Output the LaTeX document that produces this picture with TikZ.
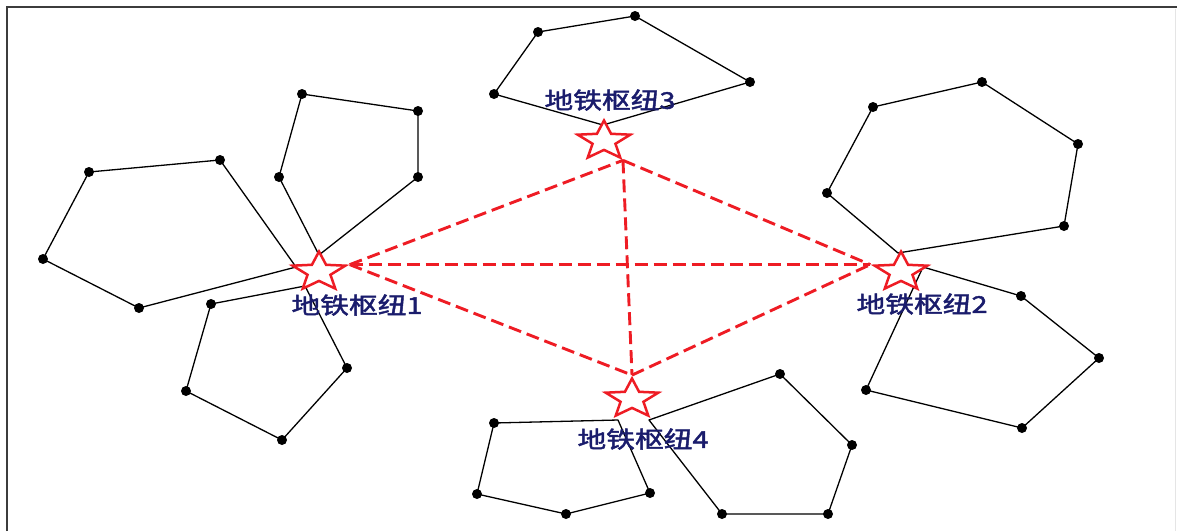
\documentclass[tikz,border=0pt]{standalone}
\usepackage{fontspec}
\newfontfamily\cjk[FakeStretch=1.25,FakeBold=2]{Noto Sans CJK SC}
\usetikzlibrary{shapes.geometric}
\definecolor{hubred}{RGB}{238,28,36}
\definecolor{labelblue}{RGB}{26,28,108}
\definecolor{framegray}{RGB}{60,60,60}
\begin{document}
\begin{tikzpicture}[x=1pt,y=-1pt,
  edge/.style={line width=1.3pt, black, line join=round},
  vdot/.style={circle, fill=black, inner sep=0pt, minimum size=10pt},
  hub/.style={star, star points=5, star point ratio=2.3, draw=hubred, fill=white,
    line width=2.5pt, minimum size=41pt, inner sep=0pt, xscale=1.35},
  link/.style={hubred, line width=2.9pt, dash pattern=on 13pt off 6pt},
  hublabel/.style={text=labelblue, font=\cjk\fontsize{23}{23}\selectfont, inner sep=0pt}]
\useasboundingbox (0,0) rectangle (1177,531);
% frame
\draw[framegray, line width=2pt] (7,531) -- (7,7) -- (1177,7);
\draw[black!10, line width=0.8pt] (1175,9) -- (1175,531);

% polygons
\draw[edge] (89,172) -- (220,160) -- (296,267) -- (139,308) -- (43,259) -- cycle;
\foreach \p in {(89,172),(220,160),(139,308),(43,259)} \node[vdot] at \p {};
\draw[edge] (302,94) -- (418,111) -- (418,177) -- (319,255) -- (279,177) -- cycle;
\foreach \p in {(302,94),(418,111),(418,177),(279,177)} \node[vdot] at \p {};
\draw[edge] (211,304) -- (305,286) -- (347,368) -- (282,440) -- (186,391) -- cycle;
\foreach \p in {(211,304),(347,368),(282,440),(186,391)} \node[vdot] at \p {};
\draw[edge] (538,32) -- (635,16) -- (750,82) -- (603,125) -- (494,94) -- cycle;
\foreach \p in {(538,32),(635,16),(750,82),(494,94)} \node[vdot] at \p {};
\draw[edge] (873,107) -- (982,82) -- (1078,144) -- (1064,226) -- (898,253) -- (827,193) -- cycle;
\foreach \p in {(873,107),(982,82),(1078,144),(1064,226),(827,193)} \node[vdot] at \p {};
\draw[edge] (923,267) -- (1021,296) -- (1099,358) -- (1022,428) -- (866,390) -- cycle;
\foreach \p in {(1021,296),(1099,358),(1022,428),(866,390)} \node[vdot] at \p {};
\draw[edge] (494,423) -- (618,420) -- (650,493) -- (566,514) -- (477,494) -- cycle;
\foreach \p in {(494,423),(650,493),(566,514),(477,494)} \node[vdot] at \p {};
\draw[edge] (649,420) -- (780,374) -- (852,445) -- (828,514) -- (722,514) -- cycle;
\foreach \p in {(780,374),(852,445),(828,514),(722,514)} \node[vdot] at \p {};

% hubs
\node[hub] (h1) at (319,272) {};
\node[hub] (h2) at (901,272) {};
\node[hub] (h3) at (604,141) {};
\node[hub] (h4) at (632,399) {};

% links
\draw[link] (h1.outer point 5) -- (h2.outer point 2);
\draw[link] (h1.outer point 5) -- (h3.outer point 4);
\draw[link] (h1.outer point 5) -- (h4.outer point 1);
\draw[link] (h3.outer point 4) -- (h2.outer point 2);
\draw[link] (h3.outer point 4) -- (h4.outer point 1);
\draw[link] (h4.outer point 1) -- (h2.outer point 2);

% labels
\node[hublabel] (l1) at (357,305) {地铁枢纽1};
\node[hublabel] (l2) at (922,304) {地铁枢纽2};
\node[hublabel] (l3) at (610,100) {地铁枢纽3};
\node[hublabel] (l4) at (643,439) {地铁枢纽4};
\end{tikzpicture}
\end{document}
